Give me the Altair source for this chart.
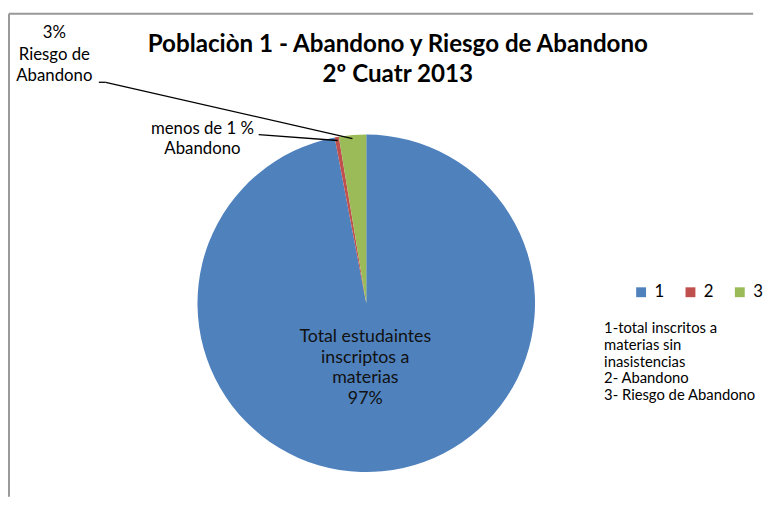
import altair as alt
import pandas as pd

# ---- data ----
categories = ["1", "2", "3"]
values = [97.0, 0.4, 2.6]
colors = ["#4F81BD", "#C0504D", "#9BBB59"]

title_lines = ["Poblaciòn 1 - Abandono y Riesgo de Abandono", "2º Cuatr 2013"]
label_1 = ["Total estudaintes", "inscriptos a", "materias", "97%"]
label_2 = ["menos de 1 %", "Abandono"]
label_3 = ["3%", "Riesgo de", "Abandono"]
note_lines = ["1-total  inscritos a", "materias sin", "inasistencias", "2- Abandono", "3- Riesgo de Abandono"]

FONT = "Lato"
W, H = 755, 492
CX, CY, R = 363, 296, 171

df = pd.DataFrame({"cat": categories, "val": values})

pie = alt.Chart(df).mark_arc(radius=R).encode(
    theta=alt.Theta("val:Q", stack=True),
    color=alt.Color(
        "cat:N",
        scale=alt.Scale(domain=categories, range=colors),
        legend=alt.Legend(
            title=None, orient="none", direction="horizontal",
            legendX=633, legendY=276, symbolType="square", symbolSize=100,
            symbolStrokeWidth=0, labelFont=FONT, labelFontSize=17,
            labelColor="#000000", columnPadding=18, labelOffset=5,
        ),
    ),
    order=alt.Order("cat:N"),
    x=alt.value(CX), y=alt.value(CY),
)

one = alt.Chart(df).transform_filter("datum.cat == '1'")

def text_layer(lines, x, y, size, weight="normal", align="center", lh=None, color="#000000"):
    return one.mark_text(
        text=lines, font=FONT, fontSize=size, fontWeight=weight, align=align,
        baseline="alphabetic", lineHeight=lh if lh else size * 1.3, color=color,
    ).encode(x=alt.value(x), y=alt.value(y))

title = text_layer(title_lines, 395, 41, 24.5, weight="bold", lh=31)
lab1 = text_layer(label_1, 362, 335, 18, lh=21, color="#111111")
lab2 = text_layer(label_2, 197, 124, 17, lh=21)
lab3 = text_layer(label_3, 47, 27, 17, lh=22)
notes = text_layer(note_lines, 604, 326, 15, align="left", lh=17)

def rule(x, y, x2, y2, color="#000000", width=1.3):
    return one.mark_rule(color=color, strokeWidth=width).encode(
        x=alt.value(x), y=alt.value(y), x2=alt.value(x2), y2=alt.value(y2)
    )

lines = (
    rule(92, 72, 99, 72) + rule(99, 72, 349, 129)
    + rule(254, 125, 334, 131)
)
frame = rule(1, 2.5, W, 2.5, color="#999999", width=2) + rule(1, 2.5, 1, H, color="#999999", width=2)

chart = alt.layer(frame, pie, lines, title, lab1, lab2, lab3, notes).properties(
    width=W, height=H, padding=0
).configure_view(stroke=None)

chart.save("out.html", embed_options={"renderer": "svg", "actions": False})
